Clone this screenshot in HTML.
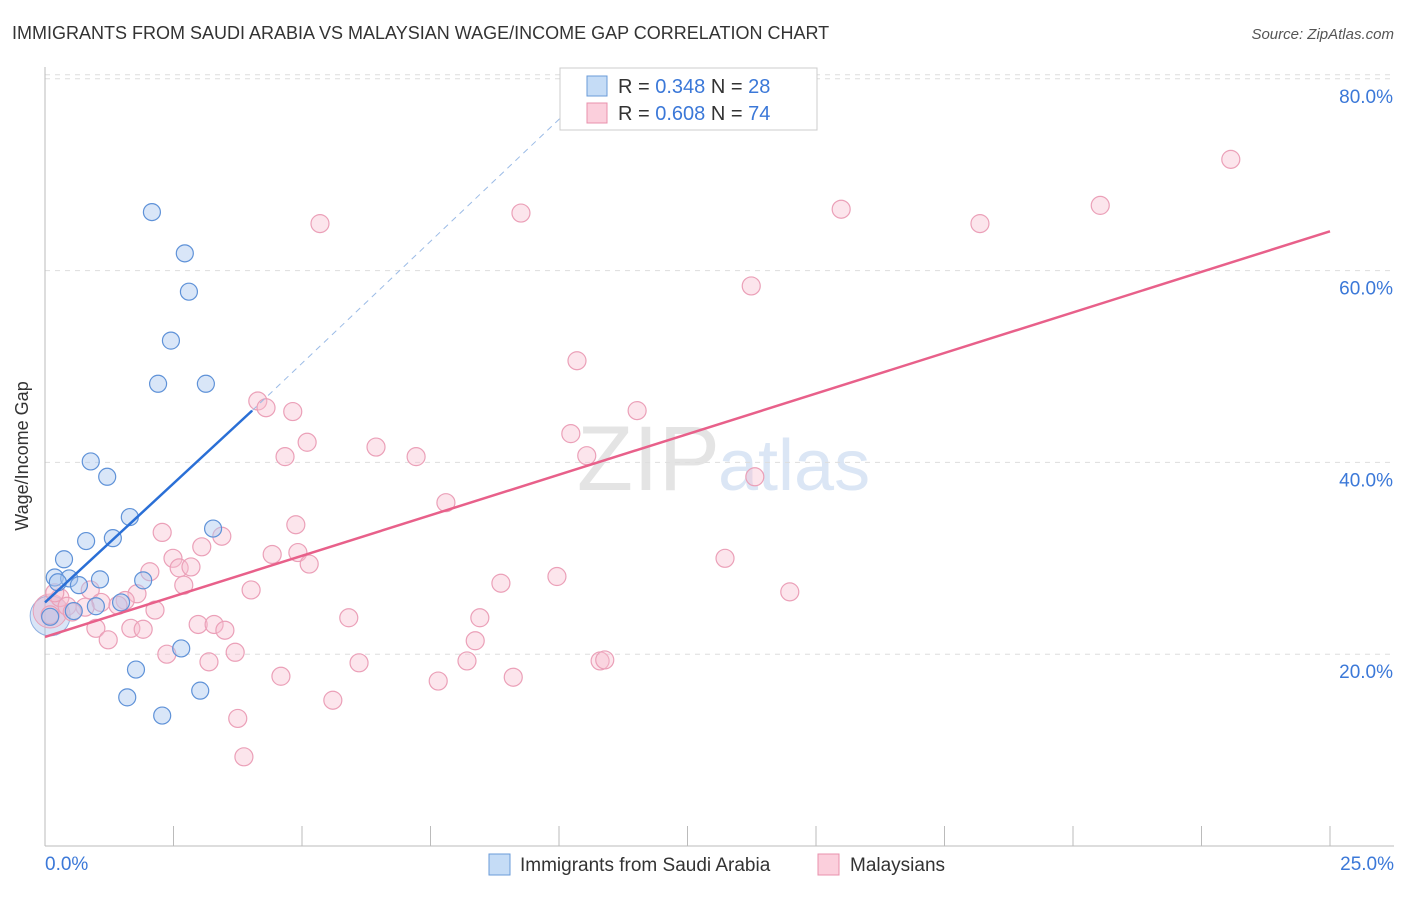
<!DOCTYPE html>
<html><head><meta charset="utf-8"><style>
body{margin:0;background:#fff;font-family:"Liberation Sans",sans-serif;}
svg text{font-family:"Liberation Sans",sans-serif;}
</style></head><body>
<svg width="1406" height="892">
<text x="12" y="39" font-size="18" fill="#333">IMMIGRANTS FROM SAUDI ARABIA VS MALAYSIAN WAGE/INCOME GAP CORRELATION CHART</text>
<text x="1394" y="39" font-size="15" fill="#555" font-style="italic" text-anchor="end">Source: ZipAtlas.com</text>
<text x="720" y="490" font-size="92" fill="#e4e4e4" text-anchor="end" font-family="Liberation Serif">ZIP</text>
<text x="718" y="490" font-size="72" fill="#dbe6f5">atlas</text>
<g id="grid"></g>
<g id="axes"></g>
<g id="marks"></g>
<text x="28" y="456" font-size="18" fill="#333" transform="rotate(-90 28 456)" text-anchor="middle">Wage/Income Gap</text>
<g>
<rect x="560" y="68" width="257" height="62" fill="#fff" stroke="#ccc"/>
<rect x="587" y="76" width="20" height="20" fill="#c5dcf6" stroke="#6a9bd8"/>
<rect x="587" y="103" width="20" height="20" fill="#fbcfdc" stroke="#e890ac"/>
<text x="618" y="93" font-size="20" fill="#333">R = <tspan fill="#3b78d8">0.348</tspan>   N = <tspan fill="#3b78d8">28</tspan></text>
<text x="618" y="120" font-size="20" fill="#333">R = <tspan fill="#3b78d8">0.608</tspan>   N = <tspan fill="#3b78d8">74</tspan></text>
</g>
<g>
<rect x="489" y="854" width="21" height="21" fill="#c5dcf6" stroke="#6a9bd8"/>
<text x="520" y="871" font-size="19" fill="#333">Immigrants from Saudi Arabia</text>
<rect x="818" y="854" width="21" height="21" fill="#fbcfdc" stroke="#e890ac"/>
<text x="850" y="871" font-size="19" fill="#333">Malaysians</text>
</g>
</svg>
<script>
const xTicks=[0,2.5,5,7.5,10,12.5,15,17.5,20,22.5,25];
const yTicks=[20,40,60,80];
const yTickLabels=["20.0%","40.0%","60.0%","80.0%"];
const blueX=[2.08,2.72,2.80,2.45,2.20,3.13,0.89,1.21,1.65,3.27,0.80,1.32,0.37,0.19,0.47,0.66,1.07,1.91,0.99,1.48,0.56,2.65,1.77,1.60,3.02,2.28,0.25,0.10];
const blueY=[66.1,61.8,57.8,52.7,48.2,48.2,40.1,38.5,34.3,33.1,31.8,32.1,29.9,28.0,27.9,27.2,27.8,27.7,25.0,25.4,24.5,20.6,18.4,15.5,16.2,13.6,27.5,23.9];
const pinkX=[23.07,20.53,15.49,18.19,9.26,5.35,13.74,10.35,4.14,4.30,4.82,11.52,10.23,5.10,6.44,4.67,7.22,10.54,13.81,7.80,2.28,3.44,4.88,3.05,4.42,4.92,5.14,2.49,2.61,2.84,2.04,13.23,9.96,8.87,2.70,4.01,14.49,1.79,0.88,0.29,1.56,1.09,1.42,0.43,0.78,2.14,5.91,8.46,0.99,1.67,1.91,2.98,3.29,3.50,1.23,8.37,3.70,2.37,3.19,6.11,8.21,10.80,10.89,4.59,9.11,7.65,5.60,3.75,3.87,0.53,0.19,0.10];
const pinkY=[71.6,66.8,66.4,64.9,66.0,64.9,58.4,50.6,46.4,45.7,45.3,45.4,43.0,42.1,41.6,40.6,40.6,40.7,38.5,35.8,32.7,32.3,33.5,31.2,30.4,30.6,29.4,30.0,29.0,29.1,28.6,30.0,28.1,27.4,27.2,26.7,26.5,26.3,26.7,25.9,25.6,25.4,25.1,25.0,24.9,24.6,23.8,23.8,22.7,22.7,22.6,23.1,23.1,22.5,21.5,21.4,20.2,20.0,19.2,19.1,19.3,19.3,19.4,17.7,17.6,17.2,15.2,13.3,9.3,24.4,26.4,24.1];
const blueTrend=[[0,25.4],[4.03,45.4]];
const blueDash=[[4.03,45.4],[10.3,77.3]];
const pinkTrend=[[0,21.8],[25,64.1]];
const X=v=>45+v*51.4, Y=v=>846-v*9.59;
const NS="http://www.w3.org/2000/svg";
function mk(tag,attrs,parent){const e=document.createElementNS(NS,tag);for(const k in attrs)e.setAttribute(k,attrs[k]);document.getElementById(parent).appendChild(e);return e;}
yTicks.forEach((t,i)=>{
 const l=mk('line',{x1:45,x2:1394,y1:Y(t),y2:Y(t),stroke:'#ddd','stroke-dasharray':'5,5'},'grid');
 
 
 const tx=mk('text',{x:1393,y:Y(t)+24,'font-size':19,fill:'#3b78d8','text-anchor':'end'},'axes');
 tx.textContent=yTickLabels[i];
 
 
});
const gl=mk('line',{x1:45,x2:1394,y1:Y(80)-4,y2:Y(80)-4,stroke:'#ddd','stroke-dasharray':'5,5'},'grid');


const ya=mk('line',{x1:45,x2:45,y1:67,y2:846,stroke:'#bbb'},'axes');


const xa=mk('line',{x1:45,x2:1394,y1:846,y2:846,stroke:'#bbb'},'axes');


xTicks.forEach(t=>{const l=mk('line',{x1:X(t),x2:X(t),y1:826,y2:846,stroke:'#bbb'},'axes');
 
 });
const x0=mk('text',{x:45,y:870,'font-size':19,fill:'#3b78d8'},'axes');x0.textContent='0.0%';


const x1=mk('text',{x:1394,y:870,'font-size':19,fill:'#3b78d8','text-anchor':'end'},'axes');x1.textContent='25.0%';


const bb=mk('circle',{cx:X(0.1),cy:Y(24),r:20,fill:'rgba(160,190,235,0.4)',stroke:'#8fb0e0'},'marks');


const bp=mk('circle',{cx:X(0.1),cy:Y(24.5),r:17,fill:'rgba(240,170,195,0.35)',stroke:'#e8a0b8'},'marks');


pinkX.forEach((v,i)=>{const c=mk('circle',{cx:X(v),cy:Y(pinkY[i]),r:9,fill:'rgba(248,190,208,0.4)',stroke:'#eba0b8','stroke-width':1.2},'marks');
 
 });
blueX.forEach((v,i)=>{const c=mk('circle',{cx:X(v),cy:Y(blueY[i]),r:8.5,fill:'rgba(170,200,240,0.45)',stroke:'#5f92d8','stroke-width':1.2},'marks');
 
 });
const pt=mk('line',{x1:X(pinkTrend[0][0]),y1:Y(pinkTrend[0][1]),x2:X(pinkTrend[1][0]),y2:Y(pinkTrend[1][1]),stroke:'#e8608a','stroke-width':2.5},'marks');


const bt=mk('line',{x1:X(blueTrend[0][0]),y1:Y(blueTrend[0][1]),x2:X(blueTrend[1][0]),y2:Y(blueTrend[1][1]),stroke:'#2a6fd6','stroke-width':2.5},'marks');


const bd=mk('line',{x1:X(blueDash[0][0]),y1:Y(blueDash[0][1]),x2:X(blueDash[1][0]),y2:Y(blueDash[1][1]),stroke:'#9bbbe6','stroke-width':1,'stroke-dasharray':'6,5'},'marks');


</script>
</body></html>
